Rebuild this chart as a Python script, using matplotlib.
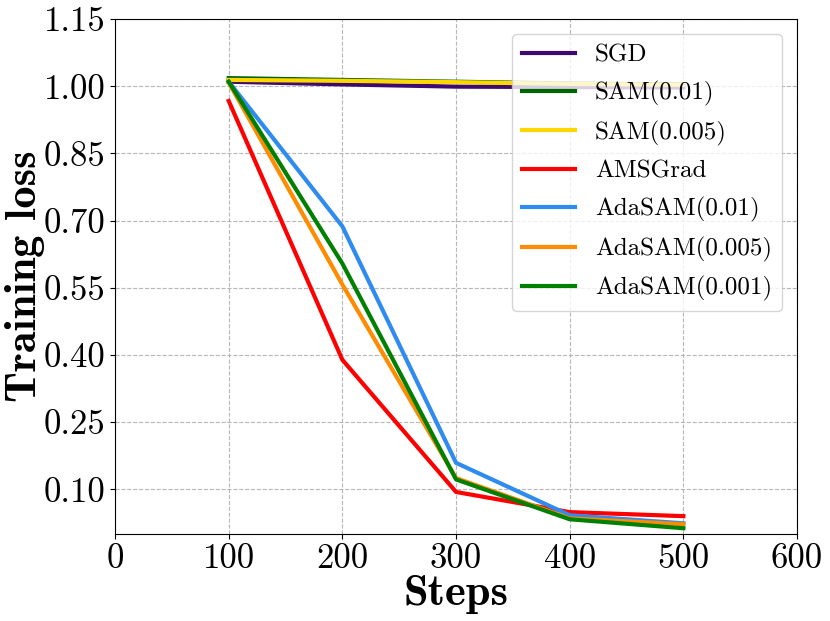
import matplotlib
matplotlib.use("Agg")
import matplotlib.pyplot as plt

steps = [100, 200, 300, 400, 500]
sgd = [1.010, 1.004, 0.999, 0.998, 0.997]
sam_001 = [1.018, 1.014, 1.010, 1.006, 1.004]
sam_0005 = [1.014, 1.012, 1.009, 1.005, 1.003]
amsgrad = [0.967, 0.389, 0.094, 0.049, 0.040]
adasam_001 = [1.010, 0.687, 0.159, 0.042, 0.024]
adasam_0005 = [1.008, 0.557, 0.125, 0.035, 0.022]
adasam_0001 = [1.010, 0.604, 0.122, 0.033, 0.013]

labels = ["SGD", "SAM(0.01)", "SAM(0.005)", "AMSGrad",
          "AdaSAM(0.01)", "AdaSAM(0.005)", "AdaSAM(0.001)"]
series = [sgd, sam_001, sam_0005, amsgrad, adasam_001, adasam_0005, adasam_0001]
colors = ["#3f0a6e", "#006400", "#FFD700", "#FF0000",
          "#2E8BF0", "#FF8C00", "#008000"]

xticks = [0, 100, 200, 300, 400, 500, 600]
yticks = [0.10, 0.25, 0.40, 0.55, 0.70, 0.85, 1.00, 1.15]

plt.rcParams['font.family'] = ['cmr10', 'DejaVu Serif']
plt.rcParams['axes.formatter.use_mathtext'] = True
plt.rcParams['mathtext.fontset'] = 'cm'

fig = plt.figure(figsize=(8.3, 6.21), dpi=100)
ax = fig.add_axes([0.1386, 0.140, 0.8217, 0.8294])

for y, lab, c in zip(series, labels, colors):
    ax.plot(steps, y, color=c, linewidth=3, label=lab)

ax.set_xlim(0, 600)
ax.set_ylim(0.0, 1.15)
ax.set_xticks(xticks)
ax.set_xticklabels([str(t) for t in xticks])
ax.set_yticks(yticks)
ax.set_yticklabels([f"{t:.2f}" for t in yticks])
ax.tick_params(labelsize=25)
ax.grid(True, linestyle='--', color='#b0b0b0', linewidth=0.8, alpha=0.9)

ax.set_xlabel("Steps", fontsize=32, family='cmb10', labelpad=0)
ax.set_ylabel("Training loss", fontsize=32, family='cmb10')
ax.yaxis.set_label_coords(-0.1026, 0.5)

ax.legend(loc='upper right', fontsize=18, handlelength=2.1,
          labelspacing=0.58, borderaxespad=0.6)

fig.savefig("out.png", dpi=100)
